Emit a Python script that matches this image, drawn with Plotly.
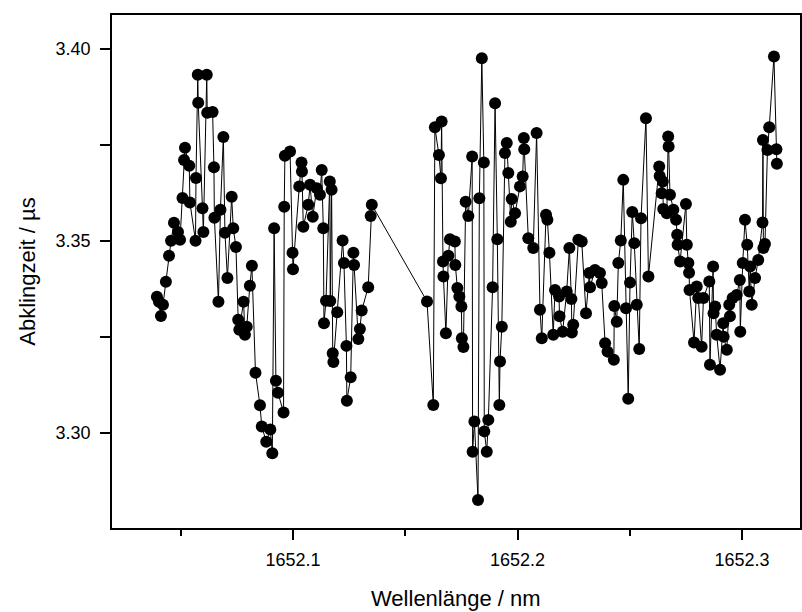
import plotly.graph_objects as go

wavelength = [
    1652.0394, 1652.0403, 1652.0412, 1652.0421, 1652.0434, 1652.0448, 1652.0457, 1652.0470, 1652.0488, 1652.0497,
    1652.0508, 1652.0515, 1652.0519, 1652.0538, 1652.0541, 1652.0566, 1652.0568, 1652.0576, 1652.0578, 1652.0597,
    1652.0601, 1652.0616, 1652.0618, 1652.0642, 1652.0648, 1652.0650, 1652.0668, 1652.0677, 1652.0690, 1652.0697,
    1652.0708, 1652.0727, 1652.0734, 1652.0746, 1652.0756, 1652.0761, 1652.0780, 1652.0786, 1652.0794, 1652.0808,
    1652.0817, 1652.0833, 1652.0853, 1652.0861, 1652.0881, 1652.0899, 1652.0908, 1652.0916, 1652.0924, 1652.0933,
    1652.0958, 1652.0961, 1652.0964, 1652.0987, 1652.0998, 1652.1000, 1652.1028, 1652.1038, 1652.1040, 1652.1046,
    1652.1068, 1652.1076, 1652.1088, 1652.1106, 1652.1120, 1652.1128, 1652.1135, 1652.1138, 1652.1147, 1652.1164,
    1652.1166, 1652.1172, 1652.1177, 1652.1180, 1652.1197, 1652.1221, 1652.1227, 1652.1238, 1652.1240, 1652.1257,
    1652.1269, 1652.1272, 1652.1291, 1652.1298, 1652.1306, 1652.1335, 1652.1346, 1652.1351, 1652.1597, 1652.1625,
    1652.1632, 1652.1650, 1652.1659, 1652.1662, 1652.1668, 1652.1670, 1652.1681, 1652.1692, 1652.1699, 1652.1721,
    1652.1723, 1652.1732, 1652.1741, 1652.1750, 1652.1752, 1652.1759, 1652.1769, 1652.1781, 1652.1798, 1652.1800,
    1652.1808, 1652.1824, 1652.1830, 1652.1841, 1652.1850, 1652.1852, 1652.1863, 1652.1870, 1652.1889, 1652.1900,
    1652.1910, 1652.1919, 1652.1922, 1652.1930, 1652.1944, 1652.1952, 1652.1959, 1652.1970, 1652.1974, 1652.1989,
    1652.2011, 1652.2023, 1652.2028, 1652.2030, 1652.2048, 1652.2070, 1652.2085, 1652.2100, 1652.2108, 1652.2127,
    1652.2133, 1652.2142, 1652.2159, 1652.2167, 1652.2185, 1652.2187, 1652.2201, 1652.2219, 1652.2231, 1652.2240,
    1652.2242, 1652.2248, 1652.2271, 1652.2286, 1652.2305, 1652.2320, 1652.2323, 1652.2345, 1652.2367, 1652.2375,
    1652.2390, 1652.2401, 1652.2429, 1652.2431, 1652.2442, 1652.2449, 1652.2460, 1652.2471, 1652.2483, 1652.2493,
    1652.2501, 1652.2511, 1652.2520, 1652.2531, 1652.2542, 1652.2550, 1652.2572, 1652.2583, 1652.2631, 1652.2633,
    1652.2642, 1652.2647, 1652.2649, 1652.2665, 1652.2671, 1652.2673, 1652.2679, 1652.2694, 1652.2706, 1652.2711,
    1652.2713, 1652.2724, 1652.2750, 1652.2754, 1652.2761, 1652.2764, 1652.2766, 1652.2786, 1652.2798, 1652.2805,
    1652.2820, 1652.2828, 1652.2854, 1652.2857, 1652.2871, 1652.2873, 1652.2880, 1652.2887, 1652.2902, 1652.2916,
    1652.2918, 1652.2932, 1652.2943, 1652.2946, 1652.2958, 1652.2976, 1652.2990, 1652.2992, 1652.3003, 1652.3013,
    1652.3023, 1652.3032, 1652.3036, 1652.3043, 1652.3058, 1652.3072, 1652.3091, 1652.3093, 1652.3095, 1652.3102,
    1652.3113, 1652.3121, 1652.3142, 1652.3153, 1652.3155,
]

decay_time = [
    3.3354, 3.3341, 3.3304, 3.3333, 3.3393, 3.3461, 3.3500, 3.3547, 3.3523, 3.3503,
    3.3612, 3.3711, 3.3743, 3.3696, 3.3600, 3.3500, 3.3664, 3.3933, 3.3860, 3.3585,
    3.3523, 3.3933, 3.3834, 3.3836, 3.3692, 3.3560, 3.3341, 3.3581, 3.3771, 3.3521,
    3.3403, 3.3615, 3.3533, 3.3484, 3.3294, 3.3268, 3.3341, 3.3255, 3.3276, 3.3383,
    3.3435, 3.3156, 3.3071, 3.3016, 3.2976, 3.3008, 3.2946, 3.3533, 3.3135, 3.3104,
    3.3052, 3.3589, 3.3722, 3.3733, 3.3469, 3.3426, 3.3642, 3.3704, 3.3681, 3.3537,
    3.3594, 3.3646, 3.3563, 3.3637, 3.3620, 3.3685, 3.3533, 3.3285, 3.3344, 3.3655,
    3.3343, 3.3633, 3.3207, 3.3184, 3.3314, 3.3501, 3.3442, 3.3226, 3.3083, 3.3144,
    3.3469, 3.3437, 3.3244, 3.3270, 3.3318, 3.3379, 3.3565, 3.3594, 3.3342, 3.3072,
    3.3796, 3.3724, 3.3663, 3.3811, 3.3446, 3.3407, 3.3259, 3.3461, 3.3504, 3.3498,
    3.3437, 3.3377, 3.3355, 3.3329, 3.3246, 3.3223, 3.3602, 3.3565, 3.3720, 3.2950,
    3.3029, 3.2824, 3.3611, 3.3976, 3.3704, 3.3003, 3.2950, 3.3033, 3.3379, 3.3859,
    3.3504, 3.3072, 3.3185, 3.3276, 3.3729, 3.3755, 3.3677, 3.3550, 3.3609, 3.3572,
    3.3642, 3.3668, 3.3768, 3.3739, 3.3507, 3.3481, 3.3781, 3.3320, 3.3246, 3.3568,
    3.3555, 3.3469, 3.3255, 3.3372, 3.3355, 3.3303, 3.3263, 3.3368, 3.3481, 3.3348,
    3.3261, 3.3281, 3.3503, 3.3498, 3.3311, 3.3416, 3.3379, 3.3424, 3.3416, 3.3390,
    3.3233, 3.3211, 3.3190, 3.3330, 3.3289, 3.3442, 3.3501, 3.3659, 3.3324, 3.3088,
    3.3391, 3.3575, 3.3494, 3.3333, 3.3218, 3.3559, 3.3820, 3.3407, 3.3694, 3.3669,
    3.3624, 3.3655, 3.3583, 3.3572, 3.3772, 3.3746, 3.3620, 3.3581, 3.3555, 3.3516,
    3.3490, 3.3446, 3.3596, 3.3490, 3.3442, 3.3417, 3.3372, 3.3235, 3.3381, 3.3351,
    3.3224, 3.3351, 3.3394, 3.3177, 3.3433, 3.3311, 3.3329, 3.3255, 3.3164, 3.3285,
    3.3250, 3.3216, 3.3333, 3.3303, 3.3351, 3.3359, 3.3398, 3.3263, 3.3442, 3.3555,
    3.3490, 3.3368, 3.3433, 3.3333, 3.3403, 3.3450, 3.3548, 3.3763, 3.3481, 3.3492,
    3.3737, 3.3796, 3.3981, 3.3739, 3.3701,
]

x_tick_vals = [1652.1, 1652.2, 1652.3]
x_tick_text = ["1652.1", "1652.2", "1652.3"]
y_tick_vals = [3.30, 3.35, 3.40]
y_tick_text = ["3.30", "3.35", "3.40"]
x_title = "Wellenlänge / nm"
y_title = "Abklingzeit / µs"

FONT = "Liberation Sans, Arial, sans-serif"

fig = go.Figure()
fig.add_trace(go.Scatter(
    x=wavelength, y=decay_time,
    mode="lines+markers",
    line=dict(color="black", width=1),
    marker=dict(color="black", size=12, line=dict(width=0)),
    showlegend=False,
))

fig.update_layout(
    width=802, height=612,
    margin=dict(l=112, r=2, t=15, b=84),
    plot_bgcolor="white", paper_bgcolor="white",
    font=dict(family=FONT, color="black", size=18),
    annotations=[dict(
        text=x_title, xref="paper", yref="paper", x=0.5, y=0,
        xanchor="center", yanchor="middle", yshift=-70, showarrow=False,
        font=dict(size=22, family=FONT, color="black"),
    )],
)
fig.update_xaxes(
    range=[1652.0194, 1652.3258],
    automargin=False,
    tickvals=x_tick_vals, ticktext=x_tick_text,
    ticks="outside", ticklen=10, tickwidth=1.5, tickcolor="black",
    minor=dict(dtick=0.05, tick0=1652.0, ticks="outside", ticklen=6, tickwidth=1.5, tickcolor="black", showgrid=False),
    showline=True, linecolor="black", linewidth=1.5, mirror=True,
    showgrid=False, zeroline=False,
    tickfont=dict(size=18, family=FONT),
    ticklabelstandoff=5,
)
fig.update_yaxes(
    range=[3.2751, 3.4089],
    automargin=False,
    tickvals=y_tick_vals, ticktext=y_tick_text,
    ticks="outside", ticklen=10, tickwidth=1.5, tickcolor="black",
    minor=dict(dtick=0.025, tick0=3.3, ticks="outside", ticklen=10, tickwidth=1.5, tickcolor="black", showgrid=False),
    showline=True, linecolor="black", linewidth=1.5, mirror=True,
    showgrid=False, zeroline=False,
    tickfont=dict(size=18, family=FONT),
    ticklabelstandoff=6,
    title=dict(text=y_title, font=dict(size=22, family=FONT), standoff=14),
)

fig.write_html("out.html")
